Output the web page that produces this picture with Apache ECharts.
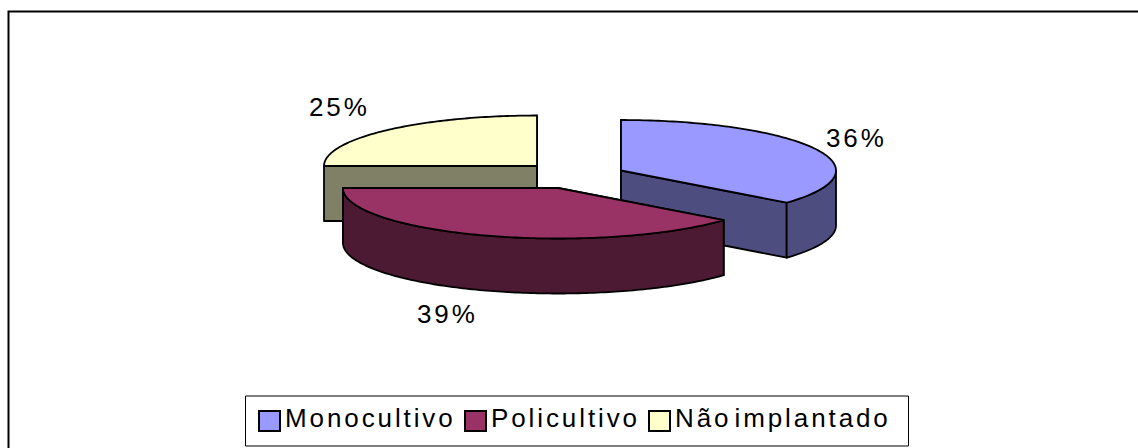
<!DOCTYPE html>
<html>
<head>
<meta charset="utf-8">
<style>
  html, body { margin: 0; padding: 0; background: #fff; }
  #chart { width: 1138px; height: 448px; letter-spacing: 2.9px; word-spacing: -7px; }
</style>
<script src="https://cdn.jsdelivr.net/npm/echarts@6/dist/echarts.min.js"></script>
</head>
<body>
<div id="chart"></div>
<script>
// data
const sliceNames = ["Monocultivo", "Policultivo", "Não implantado"];
const sliceValues = [36, 39, 25];
const topColors = ["#9999ff", "#993366", "#ffffcc"];
const sideColors = ["#4d4d80", "#4d1a33", "#808066"];

// layout: exploded centres, ellipse radii, thickness, label anchors
const centres = [[621, 170.5], [558, 188], [537, 166]];
const radiiX = [215, 215, 213];
const labelPos = [[826, 138], [417, 314], [309, 107]];
const legendLeft = [258, 464, 648];
const radiusY = 50.5;
const depth = 55;
const stroke = { stroke: "#000", lineWidth: 1.8, lineJoin: "round" };

// angle is clockwise from 12 o'clock, in degrees
function onEllipse(index, deg, dy) {
  const c = centres[index];
  const r = (deg * Math.PI) / 180;
  return [c[0] + radiiX[index] * Math.sin(r), c[1] - radiusY * Math.cos(r) + (dy || 0)];
}

function arc(index, from, to, dy) {
  const pts = [];
  const steps = Math.max(2, Math.ceil(Math.abs(to - from)));
  for (let i = 0; i <= steps; i++) {
    pts.push(onEllipse(index, from + ((to - from) * i) / steps, dy));
  }
  return pts;
}

function poly(points, fill) {
  return {
    type: "polygon",
    shape: { points: points },
    style: Object.assign({ fill: fill }, stroke),
  };
}

function makeRender(index) {
  return function (params, api) {
    const value = api.value(0);
    let before = 0;
    for (let i = 0; i < index; i++) before += sliceValues[i];
    const start = (before / 100) * 360;
    const end = start + (value / 100) * 360;
    const c = centres[index];
    const children = [];

    // cut faces, drawn first so the rim and top sit over them
    [start, end].forEach(function (deg) {
      const p = onEllipse(index, deg);
      children.push(poly([c, p, [p[0], p[1] + depth], [c[0], c[1] + depth]], sideColors[index]));
    });

    // outer rim only where the arc faces the viewer (90..270 deg)
    const rimFrom = Math.max(start, 90);
    const rimTo = Math.min(end, 270);
    if (rimTo > rimFrom) {
      const up = arc(index, rimFrom, rimTo, 0);
      const down = arc(index, rimTo, rimFrom, depth);
      children.push(poly(up.concat(down), sideColors[index]));
    }

    children.push(poly([c].concat(arc(index, start, end, 0)), topColors[index]));

    children.push({
      type: "text",
      style: {
        text: value + "%",
        x: labelPos[index][0],
        y: labelPos[index][1],
        fill: "#000",
        font: '26px "Liberation Sans"',
        align: "left",
        verticalAlign: "middle",
      },
    });
    return { type: "group", children: children };
  };
}

// yellow behind, then blue, burgundy in front
const drawOrder = [2, 0, 1];

const chart = echarts.init(document.getElementById("chart"), null, { renderer: "svg" });
chart.setOption({
  animation: false,
  backgroundColor: "#fff",
  graphic: [
    {
      // the outer frame only shows on the left and top
      type: "polyline",
      shape: { points: [[8.5, 448], [8.5, 11.5], [1138, 11.5]] },
      style: { fill: "none", stroke: "#000", lineWidth: 2 },
      silent: true,
      z: -1,
    },
    {
      type: "rect",
      shape: { x: 245.5, y: 396, width: 663, height: 50 },
      style: { fill: "#fff", stroke: "#000", lineWidth: 1 },
      silent: true,
      z: -1,
    },
  ],
  legend: sliceNames.map(function (name, i) {
    return {
      left: legendLeft[i],
      top: 405,
      padding: 0,
      itemWidth: 21,
      itemHeight: 20,
      icon: "rect",
      selectedMode: false,
      formatter: "{t|{name}}",
      textStyle: {
        color: "#000",
        // lifts the words a little above the middle of the swatch
        rich: {
          t: {
            fontFamily: "Liberation Sans",
            fontSize: 26,
            color: "#000",
            padding: [0, 0, 6, 0],
          },
        },
      },
      data: [
        {
          name: name,
          itemStyle: { color: topColors[i], borderColor: "#000", borderWidth: 2 },
        },
      ],
    };
  }),
  series: drawOrder.map(function (i) {
    return {
      type: "custom",
      name: sliceNames[i],
      coordinateSystem: "none",
      renderItem: makeRender(i),
      itemStyle: { color: topColors[i] },
      data: [[sliceValues[i]]],
      silent: true,
    };
  }),
});
</script>
</body>
</html>
